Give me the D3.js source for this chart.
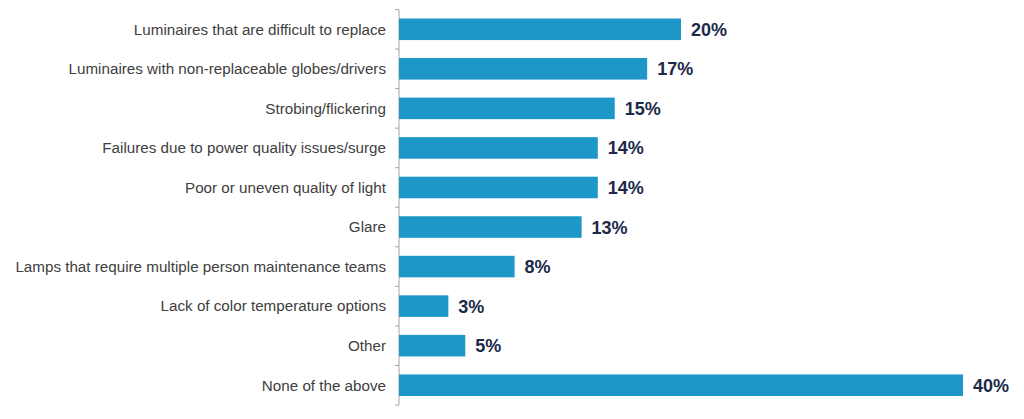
<!DOCTYPE html>
<html>
<head>
<meta charset="utf-8">
<script src="https://cdn.jsdelivr.net/npm/d3@7"></script>
<style>
  body { margin: 0; background: #fff; }
</style>
</head>
<body>
<div id="container"></div>
<script>
var categories = [
  'Luminaires that are difficult to replace',
  'Luminaires with non-replaceable globes/drivers',
  'Strobing/flickering',
  'Failures due to power quality issues/surge',
  'Poor or uneven quality of light',
  'Glare',
  'Lamps that require multiple person maintenance teams',
  'Lack of color temperature options',
  'Other',
  'None of the above'
];
// bar lengths (labels are rounded)
var values = [20, 17.6, 15.3, 14.1, 14.1, 12.95, 8.2, 3.5, 4.7, 40];
var valueLabels = ['20%', '17%', '15%', '14%', '14%', '13%', '8%', '3%', '5%', '40%'];

var width = 1024, height = 419;
var plotLeft = 399, plotTop = 9.5, plotBottom = 405;

var svg = d3.select('#container').append('svg')
  .attr('width', width)
  .attr('height', height);

var x = d3.scaleLinear().domain([0, 40]).range([plotLeft, 963]);
var y = d3.scaleBand().domain(categories).range([plotTop, plotBottom]).paddingInner(0.455).paddingOuter(0.2275);

// axis line + ticks between bands
var axis = svg.append('g');
axis.append('line')
  .attr('x1', plotLeft).attr('x2', plotLeft)
  .attr('y1', plotTop).attr('y2', plotBottom)
  .attr('stroke', '#a6a6a6').attr('stroke-width', 1);
var step = (plotBottom - plotTop) / categories.length;
axis.selectAll('line.tick')
  .data(d3.range(categories.length + 1))
  .enter().append('line')
  .attr('class', 'tick')
  .attr('x1', plotLeft - 4).attr('x2', plotLeft)
  .attr('y1', function(d) { return plotTop + d * step; })
  .attr('y2', function(d) { return plotTop + d * step; })
  .attr('stroke', '#a6a6a6').attr('stroke-width', 1);

svg.selectAll('rect.bar')
  .data(values)
  .enter().append('rect')
  .attr('class', 'bar')
  .attr('x', x(0))
  .attr('y', function(d, i) { return y(categories[i]); })
  .attr('width', function(d) { return x(d) - x(0); })
  .attr('height', y.bandwidth())
  .attr('fill', '#1d96c8');

svg.selectAll('text.cat')
  .data(categories)
  .enter().append('text')
  .attr('class', 'cat')
  .attr('x', 386)
  .attr('y', function(d) { return y(d) + y.bandwidth() / 2; })
  .attr('dy', '0.35em')
  .attr('text-anchor', 'end')
  .style('font-family', 'Liberation Sans, Arial, sans-serif')
  .style('font-size', '15.2px')
  .style('fill', '#404040')
  .text(function(d) { return d; });

svg.selectAll('text.val')
  .data(values)
  .enter().append('text')
  .attr('class', 'val')
  .attr('x', function(d) { return x(d) + 10; })
  .attr('y', function(d, i) { return y(categories[i]) + y.bandwidth() / 2; })
  .attr('dy', '0.36em')
  .style('font-family', 'Liberation Sans, Arial, sans-serif')
  .style('font-size', '18px')
  .style('font-weight', 'bold')
  .style('fill', '#1b2a4a')
  .text(function(d, i) { return valueLabels[i]; });
</script>
</body>
</html>
